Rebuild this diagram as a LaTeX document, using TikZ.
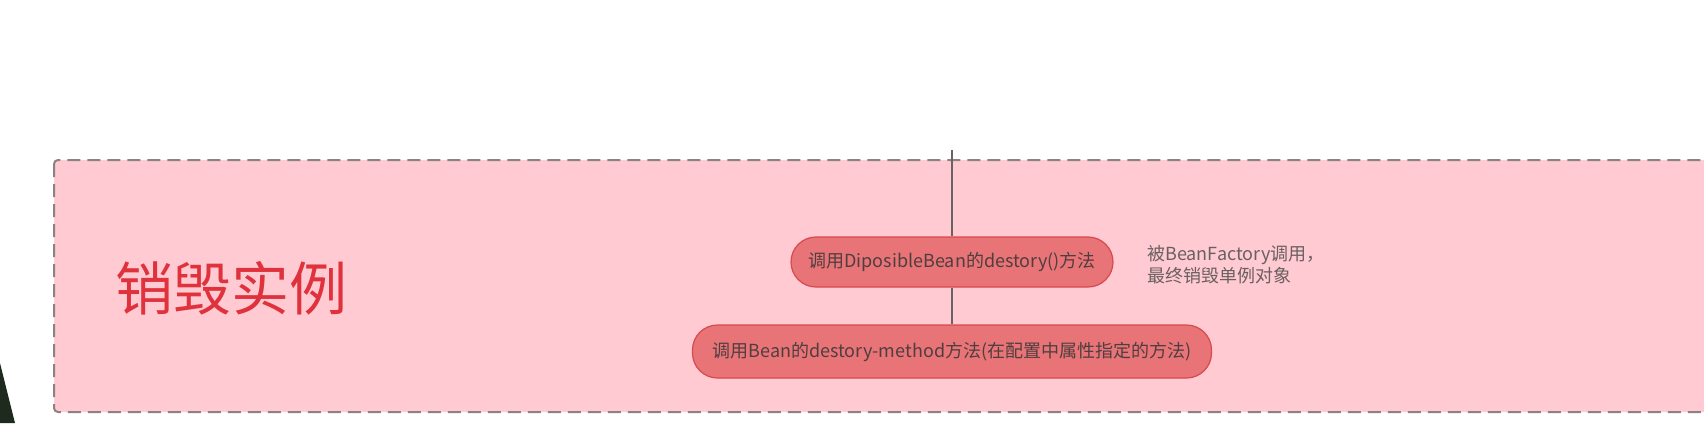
\documentclass[tikz,border=0pt]{standalone}
\usepackage{fontspec}
\setmainfont{Noto Sans CJK SC}
\newfontfamily\cjk{Noto Sans CJK SC}
\definecolor{pinkbg}{HTML}{FFCAD2}
\definecolor{boxline}{HTML}{8C8282}
\definecolor{nodefill}{HTML}{E87478}
\definecolor{nodeline}{HTML}{D9484C}
\definecolor{nodetext}{HTML}{503E3E}
\definecolor{titlered}{HTML}{E0323C}
\definecolor{conn}{HTML}{6A6262}
\definecolor{notetext}{HTML}{6A6060}
\definecolor{darkcorner}{HTML}{1E2A1E}
\tikzset{
  pill/.style={draw=nodeline, line width=1.2pt, fill=nodefill, rounded corners=25pt,
    text=nodetext, font=\cjk\fontsize{18}{20}\selectfont, inner sep=0pt, align=center},
  link/.style={draw=conn, line width=1.3pt},
  groupbox/.style={draw=boxline, dash pattern=on 13pt off 7pt, line width=2pt, fill=pinkbg, rounded corners=4pt},
}
\begin{document}
\begin{tikzpicture}[x=1pt,y=-1pt]
\useasboundingbox (0,0) rectangle (1704,423);
\fill[white] (0,0) rectangle (1704,423);
\fill[darkcorner] (0,363) -- (15,423) -- (0,423) -- cycle;
\path[groupbox] (54,160) rectangle (1720,412);
\node[text=titlered, font=\cjk\fontsize{58}{60}\selectfont, inner sep=0pt] (title) at (231,288) {销毁实例};
\coordinate (top) at (952,150);
\node[pill, minimum width=322pt, minimum height=50pt] (n1) at (952,262) {调用DiposibleBean的destory()方法};
\node[pill, minimum width=519pt, minimum height=53pt] (n2) at (952,351.5) {调用Bean的destory-method方法(在配置中属性指定的方法)};
\node[anchor=west, text=notetext, font=\cjk\fontsize{18}{22}\selectfont, align=left, inner sep=0pt] (note) at (1147,265) {被BeanFactory调用，\\最终销毁单例对象};
\draw[link] (top) -- (n1.north);
\draw[link] (n1.south) -- (n2.north);
\end{tikzpicture}
\end{document}
